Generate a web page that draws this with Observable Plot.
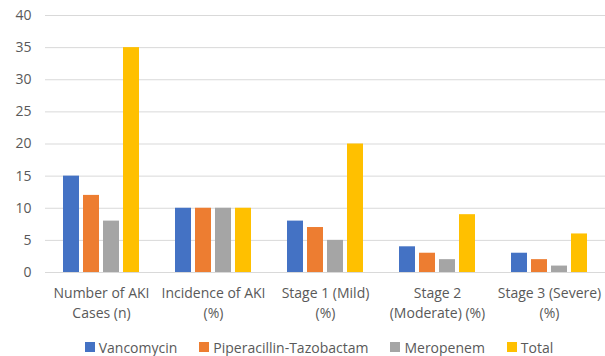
<!DOCTYPE html>
<html>
<head>
<meta charset="utf-8">
<script src="https://cdn.jsdelivr.net/npm/d3@7"></script>
<script src="https://cdn.jsdelivr.net/npm/@observablehq/plot@0.6"></script>
<style>
  html, body { margin: 0; padding: 0; background: #fff; }
  #chart { width: 605px; height: 356px; position: relative; font-family: "Open Sans", Lato, sans-serif; }
  #legend { display: flex; justify-content: center; gap: 22px; font-size: 14px; color: #595959; height: 30px; padding-top: 4px; box-sizing: border-box; align-items: center; margin-left: 33px; }
  #legend span.sw { display: inline-block; width: 10px; height: 10px; margin-right: 4px; }
  #legend .item { display: flex; align-items: center; }
</style>
</head>
<body>
<div id="chart"></div>
<script>
const categories = ["Number of AKI\nCases (n)", "Incidence of AKI\n(%)", "Stage 1 (Mild)\n(%)", "Stage 2\n(Moderate) (%)", "Stage 3 (Severe)\n(%)"];
const seriesNames = ["Vancomycin", "Piperacillin-Tazobactam", "Meropenem", "Total"];
const vancomycin = [15, 10, 8, 4, 3];
const piperacillin = [12, 10, 7, 3, 2];
const meropenem = [8, 10, 5, 2, 1];
const total = [35, 10, 20, 9, 6];
const yTicks = [0, 5, 10, 15, 20, 25, 30, 35, 40];
const colors = ["#4472C4", "#ED7D31", "#A5A5A5", "#FFC000"];

const seriesValues = [vancomycin, piperacillin, meropenem, total];
const data = [];
categories.forEach((c, i) => {
  seriesNames.forEach((s, j) => data.push({category: c, series: s, value: seriesValues[j][i]}));
});

const plot = Plot.plot({
  width: 605,
  height: 330,
  marginLeft: 45,
  marginRight: 0,
  marginTop: 15,
  marginBottom: 58,
  style: {fontFamily: "'Open Sans', Lato, sans-serif", fontSize: "14px", color: "#595959", background: "#fff"},
  fx: {domain: categories, paddingInner: 0.32, paddingOuter: 0.16, label: null, axis: null},
  x: {domain: seriesNames, paddingInner: 0.2, paddingOuter: 0, axis: null},
  y: {domain: [0, 40], ticks: yTicks, label: null, tickSize: 0, tickPadding: 32},
  color: {domain: seriesNames, range: colors},
  marks: [
    Plot.ruleY(yTicks, {stroke: "#d9d9d9", strokeWidth: 1, insetLeft: -18, insetRight: -18}),
    Plot.barY(data, {fx: "category", x: "series", y: "value", fill: "series"}),
    Plot.axisFx({anchor: "bottom", tickSize: 0, tickPadding: 12, fontSize: 14, fill: "#595959", lineHeight: 1.4, label: null})
  ]
});
document.getElementById("chart").appendChild(plot);

const legend = document.createElement("div");
legend.id = "legend";
seriesNames.forEach((s, i) => {
  const item = document.createElement("div");
  item.className = "item";
  const sw = document.createElement("span");
  sw.className = "sw";
  sw.style.background = colors[i];
  item.appendChild(sw);
  item.appendChild(document.createTextNode(s));
  legend.appendChild(item);
});
document.getElementById("chart").appendChild(legend);
</script>
</body>
</html>
